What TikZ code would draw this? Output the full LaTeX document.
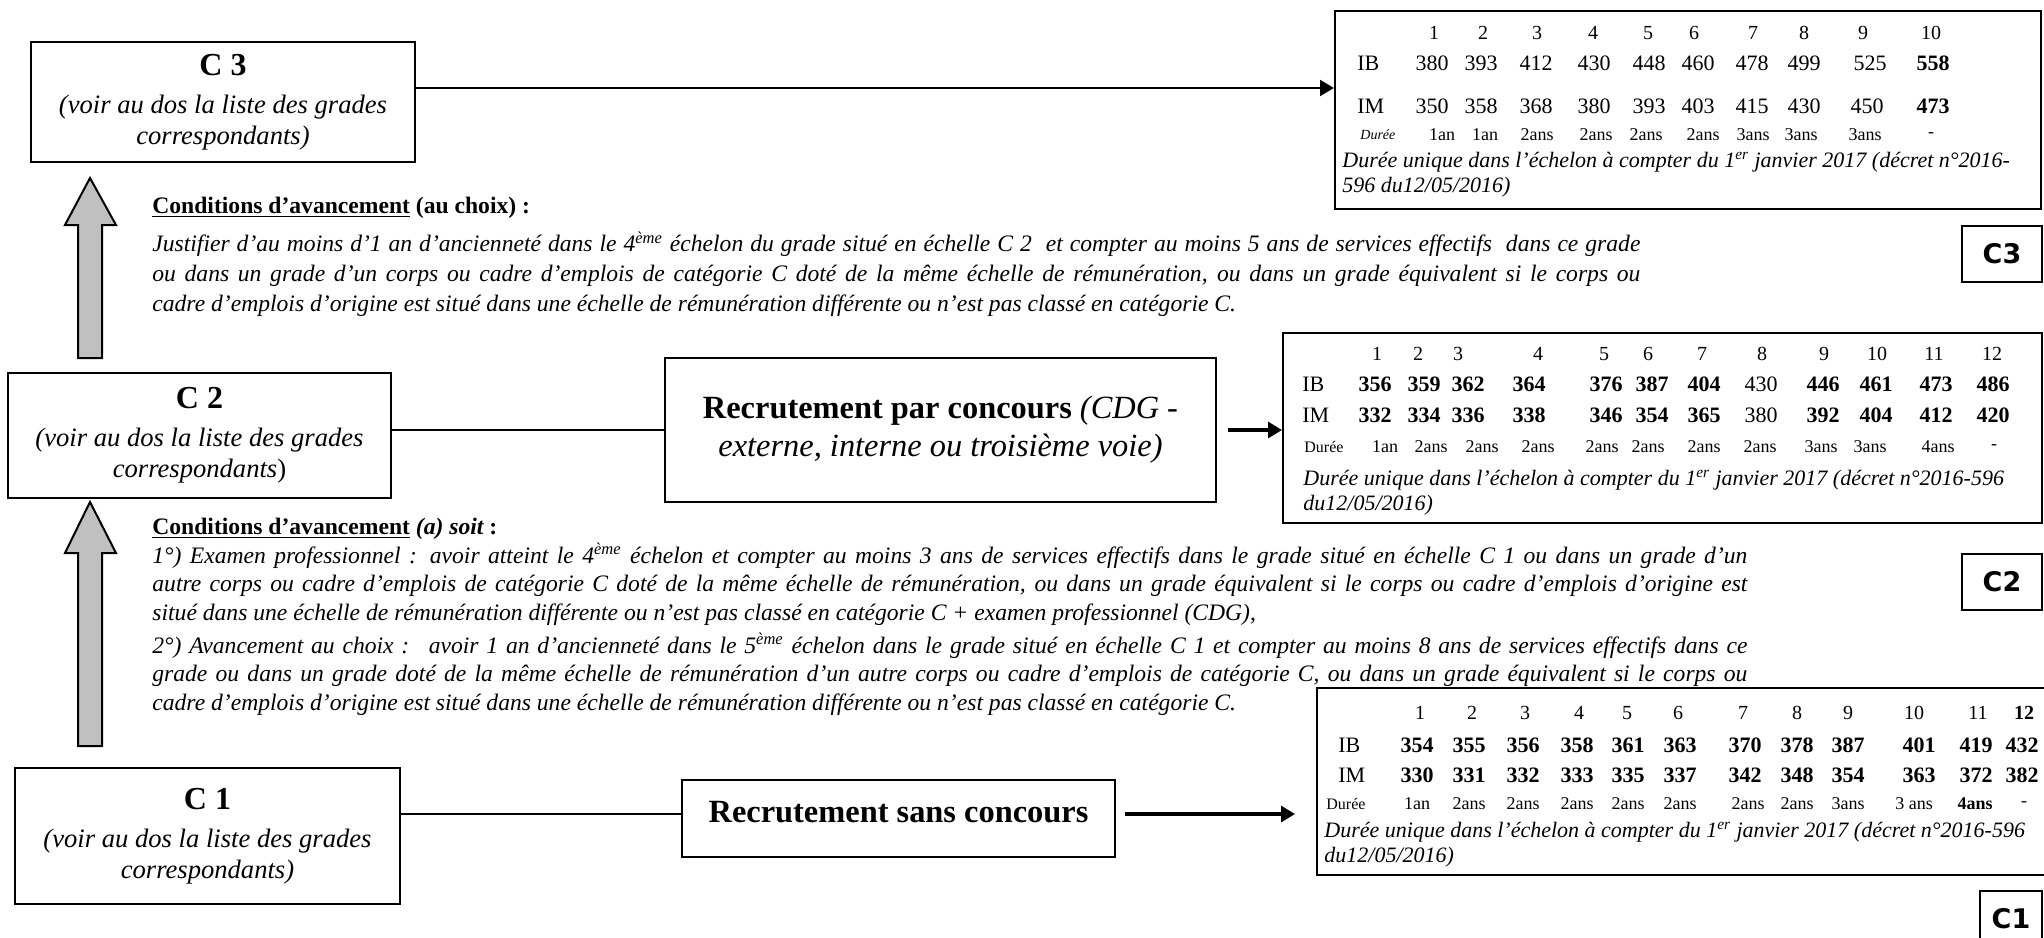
\documentclass[tikz,border=0pt]{standalone}
\usepackage{fontspec}
\setmainfont{Liberation Serif}
\newfontfamily\tagfont{DejaVu Sans}
\usetikzlibrary{arrows.meta}
\definecolor{arrowgray}{RGB}{192,192,192}

\tikzset{
  gradebox/.style={draw, line width=1pt, align=center, inner sep=0pt,
    font=\fontsize{13.3}{15.5}\selectfont\itshape},
  recbox/.style={draw, line width=1pt, align=center, inner sep=0pt,
    font=\fontsize{16.2}{19}\selectfont\bfseries},
  tabbox/.style={draw, line width=1pt, inner sep=0pt},
  numcell/.style={inner sep=0pt, font=\fontsize{11}{13}\selectfont},
  headcell/.style={inner sep=0pt, font=\fontsize{10}{12}\selectfont},
  durcell/.style={inner sep=0pt, font=\fontsize{9}{11}\selectfont},
  tabnote/.style={inner sep=0pt, anchor=north west, align=left,
    font=\fontsize{11}{12.5}\selectfont\itshape},
  tagbox/.style={draw, line width=1pt, inner sep=0pt,
    font=\tagfont\bfseries\fontsize{13.5}{16}\selectfont},
  condtext/.style={inner sep=0pt, anchor=north west, align=left,
    font=\fontsize{11.8}{15}\selectfont\itshape},
  linkline/.style={line width=1pt},
  feedarrow/.style={line width=1.6pt, -{Triangle[length=7pt,width=8pt]}},
  blockarrow/.style={draw, line width=1pt, fill=arrowgray}
}

\begin{document}
\begin{tikzpicture}[x=0.5pt,y=-0.5pt]
\useasboundingbox (0,0) rectangle (2044,937);

% grade boxes
\node[gradebox, minimum width=192pt, minimum height=60pt] (c3) at (223,102)
  {{\fontsize{16}{19}\selectfont\upshape\bfseries C 3}\\[3.5pt] (voir au dos la liste des grades\\ correspondants)};
\node[gradebox, minimum width=191.5pt, minimum height=62.5pt] (c2) at (199.5,435.5)
  {{\fontsize{16}{19}\selectfont\upshape\bfseries C 2}\\[3.5pt] (voir au dos la liste des grades\\ correspondants{\upshape )}};
\node[gradebox, minimum width=192.5pt, minimum height=68pt] (c1) at (207.5,836)
  {{\fontsize{16}{19}\selectfont\upshape\bfseries C 1}\\[3.5pt] (voir au dos la liste des grades\\ correspondants)};

% recruitment
\node[recbox, minimum width=275.5pt, minimum height=72pt] (rpc) at (940.5,430)
  {Recrutement par concours {\mdseries\itshape (CDG -}\\ {\mdseries\itshape externe, interne ou troisi\`eme voie)}};
\node[recbox, minimum width=216.5pt, minimum height=38.5pt] (rsc) at (898.5,818.5)
  {\raisebox{6.5pt}{Recrutement sans concours}};

% scale tables
\node[tabbox, minimum width=353pt, minimum height=99pt] (c3tab) at (1688,110) {};
\node[tabbox, minimum width=379.5pt, minimum height=95pt] (c2tab) at (1662.5,428) {};
\node[tabbox, minimum width=376.5pt, minimum height=93.5pt] (c1tab) at (1693.5,781.5) {};

% C3 table
\foreach \x [count=\n] in {1434,1483,1537,1593,1648,1694,1753,1804,1863,1931}
  \node[headcell] (c3h\n) at (\x,33) {\n};
\node[numcell, anchor=west] (c3ib) at (1357,63) {IB};
\foreach \x/\v [count=\i] in {1432/380,1481/393,1536/412,1594/430,1649/448,1698/460,1752/478,1804/499,1870/525,1933/\textbf{558}}
  \node[numcell] (c3ib\i) at (\x,63) {\v};
\node[numcell, anchor=west] (c3im) at (1357,106) {IM};
\foreach \x/\v [count=\i] in {1432/350,1481/358,1536/368,1594/380,1649/393,1698/403,1752/415,1804/430,1867/450,1933/\textbf{473}}
  \node[numcell] (c3im\i) at (\x,106) {\v};
\node[durcell, font=\fontsize{7}{8}\selectfont\itshape, anchor=west] (c3du) at (1360,135) {Durée};
\foreach \x/\v [count=\i] in {1442/1an,1485/1an,1537/2ans,1596/2ans,1646/2ans,1703/2ans,1753/3ans,1801/3ans,1865/3ans,1931/-}
  \node[durcell] (c3du\i) at (\x,135) {\v};
\node[tabnote] (c3note) at (1342,152)
  {Durée unique dans l’échelon à compter du 1\textsuperscript{er} janvier 2017 (décret n°2016-\\596 du12/05/2016)};

% C2 table
\foreach \x [count=\n] in {1377,1418,1458,1538,1604,1648,1702,1762,1824,1877,1934,1992}
  \node[headcell] (c2h\n) at (\x,354) {\n};
\node[numcell, anchor=west] (c2ib) at (1302,384) {IB};
\foreach \x/\v [count=\i] in {1375/\textbf{356},1424/\textbf{359},1468/\textbf{362},1529/\textbf{364},1606/\textbf{376},1652/\textbf{387},1704/\textbf{404},1761/430,1823/\textbf{446},1876/\textbf{461},1936/\textbf{473},1993/\textbf{486}}
  \node[numcell] (c2ib\i) at (\x,384) {\v};
\node[numcell, anchor=west] (c2im) at (1302,415) {IM};
\foreach \x/\v [count=\i] in {1375/\textbf{332},1424/\textbf{334},1468/\textbf{336},1529/\textbf{338},1606/\textbf{346},1652/\textbf{354},1704/\textbf{365},1761/380,1823/\textbf{392},1876/\textbf{404},1936/\textbf{412},1993/\textbf{420}}
  \node[numcell] (c2im\i) at (\x,415) {\v};
\node[durcell, font=\fontsize{8}{9}\selectfont, anchor=west] (c2du) at (1304,447) {Durée};
\foreach \x/\v [count=\i] in {1385/1an,1431/2ans,1482/2ans,1538/2ans,1602/2ans,1648/2ans,1704/2ans,1760/2ans,1821/3ans,1870/3ans,1938/4ans,1994/-}
  \node[durcell] (c2du\i) at (\x,447) {\v};
\node[tabnote] (c2note) at (1303,470)
  {Durée unique dans l’échelon à compter du 1\textsuperscript{er} janvier 2017 (décret n°2016-596\\du12/05/2016)};

% C1 table
\foreach \x/\v [count=\n] in {1420/1,1472/2,1525/3,1579/4,1627/5,1678/6,1743/7,1797/8,1848/9,1914/10,1978/11,2024/\textbf{12}}
  \node[headcell] (c1h\n) at (\x,713) {\v};
\node[numcell, anchor=west] (c1ib) at (1338,745) {IB};
\foreach \x/\v [count=\i] in {1417/354,1469/355,1523/356,1577/358,1628/361,1680/363,1745/370,1797/378,1848/387,1919/401,1976/419,2022/432}
  \node[numcell, font=\fontsize{11}{13}\selectfont\bfseries] (c1ib\i) at (\x,745) {\v};
\node[numcell, anchor=west] (c1im) at (1338,775) {IM};
\foreach \x/\v [count=\i] in {1417/330,1469/331,1523/332,1577/333,1628/335,1680/337,1745/342,1797/348,1848/354,1919/363,1976/372,2022/382}
  \node[numcell, font=\fontsize{11}{13}\selectfont\bfseries] (c1im\i) at (\x,775) {\v};
\node[durcell, font=\fontsize{8}{9}\selectfont, anchor=west] (c1du) at (1326,804) {Durée};
\foreach \x/\v [count=\i] in {1417/1an,1469/2ans,1523/2ans,1577/2ans,1628/2ans,1680/2ans,1748/2ans,1797/2ans,1848/3ans,1914/3 ans,1975/\textbf{4ans},2024/-}
  \node[durcell] (c1du\i) at (\x,804) {\v};
\node[tabnote] (c1note) at (1324,822)
  {Durée unique dans l’échelon à compter du 1\textsuperscript{er} janvier 2017 (décret n°2016-596\\du12/05/2016)};

% tags
\node[tagbox, minimum width=40pt, minimum height=28pt] (tag3) at (2002,254) {C3};
\node[tagbox, minimum width=40pt, minimum height=28pt] (tag2) at (2002,581.5) {C2};
\node[tagbox, minimum width=31pt, minimum height=28pt] (tag1) at (2011,919) {C1};

% conditions
\node[condtext] (cond3) at (152,197)
  {{\upshape\bfseries\underline{Conditions d’avancement} (au choix) :}\\[4pt]
   \makebox[744pt][s]{Justifier d’au moins d’1 an d’ancienneté dans le 4\textsuperscript{ème} échelon du grade situé en échelle C 2 \ et compter au moins 5 ans de services effectifs \ dans ce grade}\\
   \makebox[744pt][s]{ou dans un grade d’un corps ou cadre d’emplois de catégorie C doté de la même échelle de rémunération, ou dans un grade équivalent si le corps ou}\\
   cadre d’emplois d’origine est situé dans une échelle de rémunération différente ou n’est pas classé en catégorie C.};
\node[condtext, font=\fontsize{11.8}{14.3}\selectfont\itshape] (cond2) at (152,518)
  {{\upshape\bfseries\underline{Conditions d’avancement} {\itshape (a) soit} :}\\
   \makebox[797.5pt][s]{1°) Examen professionnel : avoir atteint le 4\textsuperscript{ème} échelon et compter au moins 3 ans de services effectifs dans le grade situé en échelle C 1 ou dans un grade d’un}\\
   \makebox[797.5pt][s]{autre corps ou cadre d’emplois de catégorie C doté de la même échelle de rémunération, ou dans un grade équivalent si le corps ou cadre d’emplois d’origine est}\\
   situé dans une échelle de rémunération différente ou n’est pas classé en catégorie C + examen professionnel (CDG),\\[2pt]
   \makebox[797.5pt][s]{2°) Avancement au choix : \ avoir 1 an d’ancienneté dans le 5\textsuperscript{ème} échelon dans le grade situé en échelle C 1 et compter au moins 8 ans de services effectifs dans ce}\\
   \makebox[797.5pt][s]{grade ou dans un grade doté de la même échelle de rémunération d’un autre corps ou cadre d’emplois de catégorie C, ou dans un grade équivalent si le corps ou}\\
   cadre d’emplois d’origine est situé dans une échelle de rémunération différente ou n’est pas classé en catégorie C.};

% connectors
\draw[linkline, -{Triangle[length=7pt,width=8pt]}] ([yshift=7pt]c3.east) -- ([yshift=7pt]c3.east -| c3tab.west);
\draw[linkline] (c2.east |- rpc.west) -- (rpc.west);
\draw[feedarrow, shorten <=5.5pt] (rpc.east) -- (rpc.east -| c2tab.west);
\draw[linkline] ([yshift=2.25pt]c1.east |- rsc.west) -- ([yshift=2.25pt]rsc.west);
\draw[feedarrow, shorten <=4.5pt, shorten >=10.5pt] ([yshift=2.25pt]rsc.east) -- ([yshift=2.25pt]rsc.east -| c1tab.west);

% promotion arrows
\draw[blockarrow] (78,358) -- (78,225) -- (65,225) -- (90,178) -- (116,225) -- (102,225) -- (102,358) -- cycle;
\draw[blockarrow] (78,746) -- (78,553) -- (65,553) -- (90,502) -- (116,553) -- (102,553) -- (102,746) -- cycle;
\end{tikzpicture}
\end{document}
